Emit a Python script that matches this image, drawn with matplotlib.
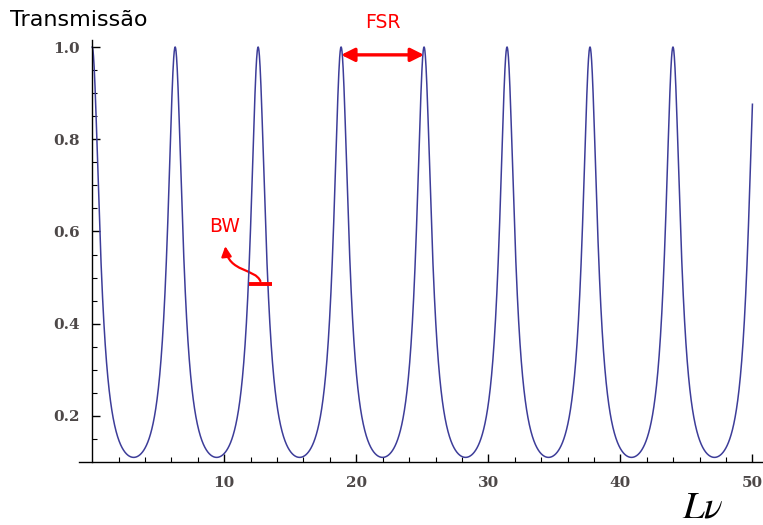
import numpy as np
import matplotlib
matplotlib.use('Agg')
import matplotlib.pyplot as plt
from matplotlib.path import Path
from matplotlib.patches import FancyArrowPatch

plt.rcParams['mathtext.fontset'] = 'stix'

# values
peak_spacing = 2 * np.pi      # peaks at 0, 6.28, 12.57, ...
t_min = 0.11                  # transmission at the troughs
x_start, x_end = 0.0, 50.0
x_ticks = [10, 20, 30, 40, 50]
y_ticks = [0.2, 0.4, 0.6, 0.8, 1.0]
y_tick_labels = ['0.2', '0.4', '0.6', '0.8', '1.0']

fsr_from, fsr_to, fsr_y = 3 * peak_spacing, 4 * peak_spacing, 0.983
bw_left, bw_right, bw_y = 11.85, 13.65, 0.485

# Airy transmission of a Fabry-Perot cavity
F = 1.0 / t_min - 1.0
x = np.linspace(x_start, x_end, 4000)
T = 1.0 / (1.0 + F * np.sin(np.pi * x / peak_spacing) ** 2)

fig = plt.figure(figsize=(7.63, 5.25), dpi=100)
ax = fig.add_axes([0.1035, 0.12, 0.8965, 0.8036])

ax.plot(x, T, color='#3d3d99', lw=1.1)

ax.set_xlim(-1.0, 50.8)
ax.set_ylim(0.1, 1.015)
ax.spines['left'].set_position(('data', 0))
ax.spines['bottom'].set_position(('data', 0.1))
for s in ['top', 'right']:
    ax.spines[s].set_visible(False)
for s in ['left', 'bottom']:
    ax.spines[s].set_linewidth(1.0)

ax.set_xticks(x_ticks)
ax.set_xticks(np.arange(2, 51, 2), minor=True)
ax.set_yticks(y_ticks)
ax.set_yticklabels(y_tick_labels)
ax.set_yticks(np.arange(0.15, 1.0, 0.05), minor=True)
ax.tick_params(direction='in', which='major', length=6, width=1.0)
ax.tick_params(direction='in', which='minor', length=3.5, width=0.8)
ax.tick_params(axis='x', pad=10)
ax.tick_params(axis='y', pad=9)
for lab in ax.get_xticklabels() + ax.get_yticklabels():
    lab.set_family('DejaVu Serif')
    lab.set_fontweight('bold')
    lab.set_fontsize(11)
    lab.set_color('#4d4848')

# FSR arrow
ax.annotate('', xy=(fsr_to, fsr_y), xytext=(fsr_from, fsr_y),
            arrowprops=dict(arrowstyle='<|-|>', color='red', lw=2.4,
                            mutation_scale=20, shrinkA=0, shrinkB=0),
            annotation_clip=False)
ax.text((fsr_from + fsr_to) / 2, 1.054, 'FSR', color='red', fontsize=13.5,
        ha='center', va='center', family='DejaVu Sans', clip_on=False)

# BW marker
ax.plot([bw_left, bw_right], [bw_y, bw_y], color='red', lw=2.8,
        solid_capstyle='butt')
bw_path = Path([(12.74, 0.492), (12.36, 0.52), (10.31, 0.511), (10.08, 0.568)],
               [Path.MOVETO, Path.CURVE4, Path.CURVE4, Path.CURVE4])
ax.add_patch(FancyArrowPatch(path=bw_path, arrowstyle='-|>', color='red',
                             lw=1.6, mutation_scale=15))
ax.text(10.0, 0.611, 'BW', color='red', fontsize=13.5, ha='center',
        va='center', family='DejaVu Sans')

fig.text(10 / 763, 1 - 20 / 525, 'Transmissão', fontsize=16,
         family='DejaVu Sans', ha='left', va='center')
fig.text(703 / 763, 1 - 507 / 525, r'$L\nu$', fontsize=28,
         ha='center', va='center')

fig.savefig('out.png', dpi=100)
